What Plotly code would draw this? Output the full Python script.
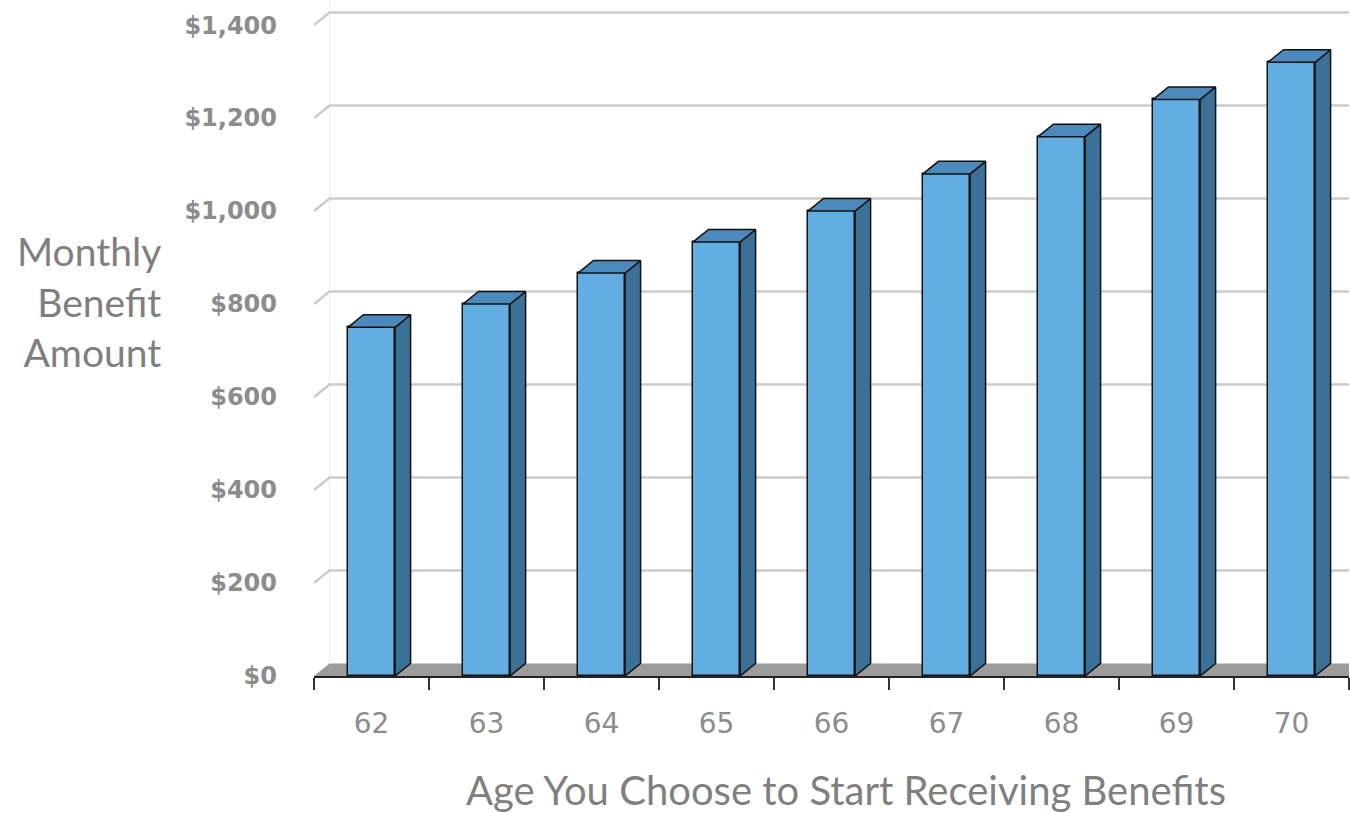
import plotly.graph_objects as go

ages = ["62", "63", "64", "65", "66", "67", "68", "69", "70"]
benefits = [750, 800, 866.67, 933.33, 1000, 1080, 1160, 1240, 1320]
ytick_vals = [0, 200, 400, 600, 800, 1000, 1200, 1400]
ytick_text = ["$0", "$200", "$400", "$600", "$800", "$1,000", "$1,200", "$1,400"]

FRONT = "#62AEE3"
TOP = "#4C89BD"
SIDE = "#3C7197"
GRID = "#CBCBCB"
FLOOR = "#9C9C9C"

W = 0.41      # bar width (category units)
DX = 0.135    # depth offset in x (category units)
DY = 27       # depth offset in y ($)
XMIN, XMAX = -0.5, len(ages) - 0.5
YMAX = 1454

idx = list(range(len(ages)))

# top and side faces derived from the values
tx, ty, sx, sy = [], [], [], []
for i, v in zip(idx, benefits):
    l, r = i - W / 2, i + W / 2
    tx += [l, l + DX, r + DX, r, l, None]
    ty += [v, v + DY, v + DY, v, v, None]
    sx += [r, r, r + DX, r + DX, r, None]
    sy += [0, v, v + DY, DY, 0, None]

fig = go.Figure()

fig.add_trace(go.Bar(
    x=idx, y=benefits, width=W,
    marker=dict(color=FRONT, line=dict(color="#111111", width=1.5)),
    hoverinfo="skip", showlegend=False,
))
fig.add_trace(go.Scatter(
    x=sx, y=sy, mode="lines", fill="toself", fillcolor=SIDE,
    line=dict(color="#111111", width=1.5), hoverinfo="skip", showlegend=False,
))
fig.add_trace(go.Scatter(
    x=tx, y=ty, mode="lines", fill="toself", fillcolor=TOP,
    line=dict(color="#111111", width=1.5), hoverinfo="skip", showlegend=False,
))

shapes = []
# floor
shapes.append(dict(type="path", xref="x", yref="y", layer="below",
                   path=f"M {XMIN},0 L {XMIN + DX},{DY} L {XMAX + 0.2},{DY} L {XMAX + 0.2},0 Z",
                   fillcolor=FLOOR, line=dict(width=0)))
# faint left wall
shapes.append(dict(type="line", xref="x", yref="y", layer="below",
                   x0=XMIN + DX, x1=XMIN + DX, y0=DY, y1=YMAX,
                   line=dict(color="#EFEFEF", width=1.5)))
# back-wall gridlines with diagonal on the side wall
for v in ytick_vals[1:]:
    shapes.append(dict(type="path", xref="x", yref="y", layer="below",
                       path=f"M {XMIN},{v} L {XMIN + DX},{v + DY} L {XMAX + 0.2},{v + DY}",
                       line=dict(color=GRID, width=2.5)))

fig.update_layout(
    width=1350, height=813,
    margin=dict(l=314, r=1, t=0, b=137),
    paper_bgcolor="white", plot_bgcolor="white",
    shapes=shapes,
    bargap=0,
    xaxis=dict(
        range=[XMIN, XMAX], tickmode="array", tickvals=idx, ticktext=ages,
        showgrid=False, zeroline=False,
        showline=True, linecolor="#222222", linewidth=1.5,
        ticks="outside", ticklen=0, tickcolor="white",
        ticklabelstandoff=22,
        tickfont=dict(family="DejaVu Sans", size=28, color="#8C8C8C"),
        minor=dict(tickvals=[i - 0.5 for i in range(len(ages) + 1)],
                   ticks="outside", ticklen=12, tickwidth=1.5, tickcolor="#333333",
                   showgrid=False),
    ),
    yaxis=dict(
        range=[0, YMAX], tickmode="array", tickvals=ytick_vals, ticktext=ytick_text,
        showgrid=False, zeroline=False, showline=False, ticks="",
        ticklabelstandoff=36,
        tickfont=dict(family="DejaVu Sans", size=24, color="#8C8C8C", weight="bold"),
    ),
    annotations=[
        dict(text="Age You Choose to Start Receiving Benefits", xref="paper", yref="paper",
             x=(846 - 314) / 1035, y=(676 - 790) / 676, xanchor="center", yanchor="middle",
             showarrow=False, font=dict(family="Lato", size=40, color="#7F7F7F")),
        dict(text="Monthly<br>Benefit<br>Amount", xref="paper", yref="paper",
             x=(163 - 314) / 1035, y=(676 - 302) / 676, xanchor="right", yanchor="middle",
             align="right", showarrow=False,
             font=dict(family="Lato", size=39, color="#7F7F7F")),
    ],
)

fig.write_html("out.html")
